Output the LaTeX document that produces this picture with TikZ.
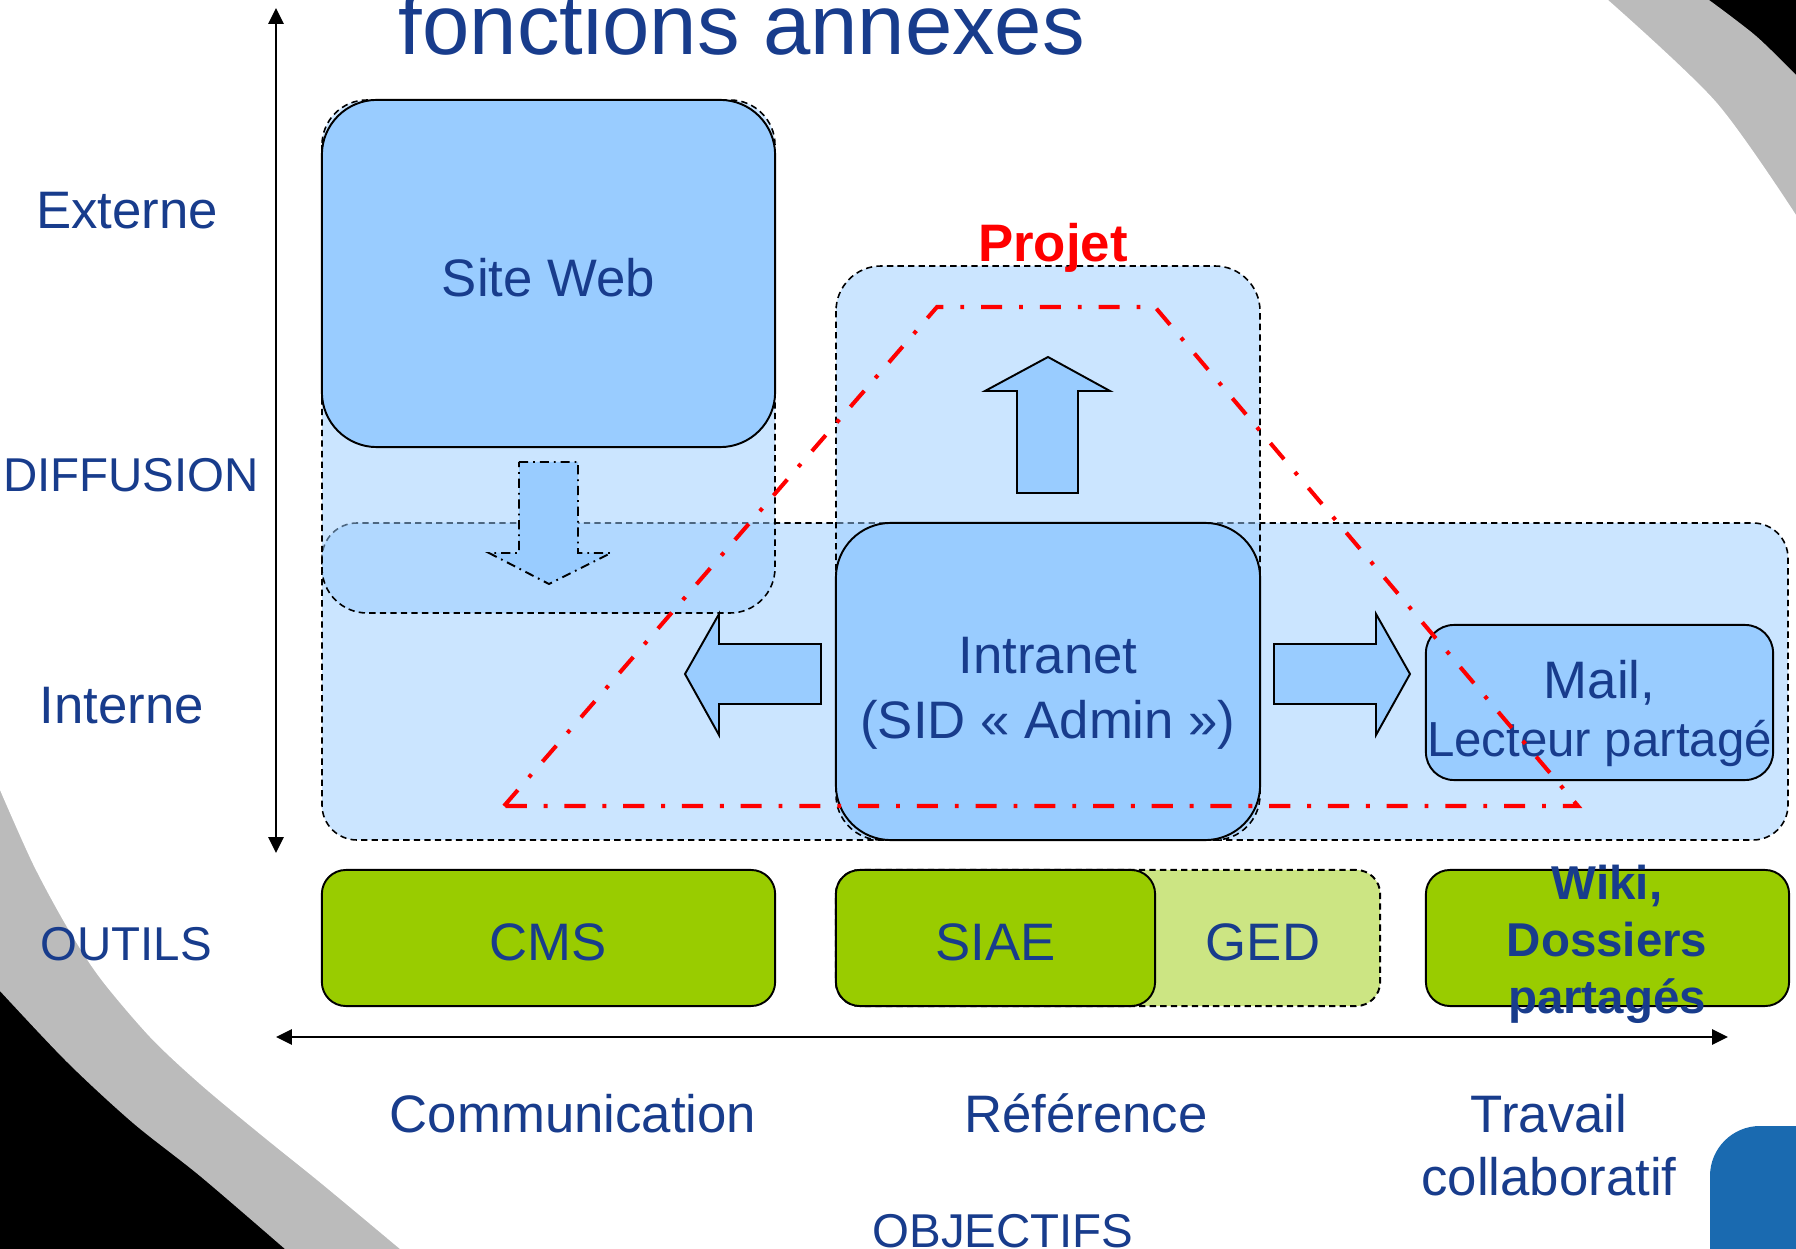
\documentclass[tikz,border=0pt]{standalone}
\usepackage{fontspec}
\setmainfont{Liberation Sans}
\usepackage{tikz}
\usetikzlibrary{arrows.meta}

\definecolor{textblue}{RGB}{24,60,140}
\definecolor{boxblue}{RGB}{153,204,255}
\definecolor{toolgreen}{RGB}{153,204,0}
\definecolor{gedgreen}{RGB}{204,229,131}
\definecolor{ringgrey}{RGB}{187,187,187}
\definecolor{cornerblue}{RGB}{26,106,176}

\begin{document}
\begin{tikzpicture}[x=0.01cm, y=-0.01cm,
    lbl/.style={text=textblue, font=\fontsize{15}{18}\selectfont, inner sep=0pt},
    caps/.style={text=textblue, font=\fontsize{13.5}{16}\selectfont, inner sep=0pt},
    zone/.style={draw, line width=0.45pt, dash pattern=on 1.8pt off 1.2pt, fill=boxblue, fill opacity=0.5},
    bluebox/.style={draw, line width=0.55pt, fill=boxblue, inner sep=0pt, align=center, text depth=0pt, text=textblue, font=\fontsize{15}{18.4}\selectfont},
    toolbox/.style={draw, line width=0.55pt, fill=toolgreen, rounded corners=0.24cm, inner sep=0pt, minimum height=1.36cm, text height=0.44cm, text depth=0pt, text=textblue, font=\fontsize{15}{18}\selectfont},
    bigarrow/.style={draw, line width=0.55pt, fill=boxblue},
    projline/.style={draw=red, line width=1.15pt, dash pattern=on 6pt off 4.8pt on 1.1pt off 4.8pt},
    axis/.style={line width=0.6pt, >={Triangle[length=4.5pt,width=4.3pt]}, <->}]

    % slide background
    \useasboundingbox (0,0) rectangle (1796,1249);
    \fill[black] (0,0) rectangle (1796,1249);
    \fill[ringgrey] (0,0) -- plot[smooth] coordinates {(1709,0) (1756,36) (1796,75)} -- (1796,1249)
        -- plot[smooth] coordinates {(285,1249) (200,1176) (133,1123) (67,1062) (0,991)} -- cycle;
    \fill[white] (0,0) -- plot[smooth] coordinates {(1608,0) (1716,102) (1796,215)} -- (1796,1249)
        -- plot[smooth] coordinates {(400,1249) (322,1184) (260,1134) (200,1084) (150,1037) (100,978) (67,927) (33,864) (0,790)} -- cycle;
    \fill[cornerblue, rounded corners=0.5cm] (1710,1126) rectangle (1850,1300);

    % zones
    \draw[zone, rounded corners=0.35cm] (322,523) rectangle (1788,840);
    \draw[zone, rounded corners=0.45cm] (836,266) rectangle (1260,840);
    \draw[zone, rounded corners=0.45cm] (322,100) rectangle (775,613);

    \node[bluebox, rounded corners=0.55cm, minimum width=4.53cm, minimum height=3.47cm, text height=0.45cm] (site) at (548.5,273.5) {Site Web};
    \node[bluebox, rounded corners=0.55cm, minimum width=4.24cm, minimum height=3.17cm, text height=1.13cm] (intranet) at (1048,681.5) {Intranet\\(SID « Admin »)};
    \node[bluebox, rounded corners=0.28cm, minimum width=3.47cm, minimum height=1.55cm, text height=1.07cm, font=\fontsize{15}{16.5}\selectfont] (mail) at (1599.5,702.5) {Mail,\\{\fontsize{14}{16.5}\selectfont Lecteur partagé}};

    % block arrows
    \draw[bigarrow] (1017,493) -- (1017,391) -- (985,391) -- (1048,357) -- (1110,391) -- (1078,391) -- (1078,493) -- cycle;
    \draw[bigarrow, dash pattern=on 2.6pt off 1.4pt on 0.5pt off 1.4pt] (519,462) -- (578,462) -- (578,553) -- (611,553) -- (549,584) -- (489,553) -- (519,553) -- cycle;
    \draw[bigarrow] (821,644) -- (719,644) -- (719,614) -- (685,674) -- (719,735) -- (719,704) -- (821,704) -- cycle;
    \draw[bigarrow] (1274,644) -- (1376,644) -- (1376,614) -- (1410,674) -- (1376,735) -- (1376,704) -- (1274,704) -- cycle;

    % outils
    \node[toolbox, dash pattern=on 1.8pt off 1.2pt, fill=gedgreen, minimum width=5.44cm] (ged) at (1108,938) {};
    \node[lbl, anchor=base] (gedlabel) at (1263,960) {GED};
    \node[toolbox, minimum width=4.53cm] (cms) at (548.5,938) {CMS};
    \node[toolbox, minimum width=3.19cm] (siae) at (995.5,938) {SIAE};
    \node[toolbox, minimum width=3.63cm] (wiki) at (1607.5,938) {};
    \node[lbl, anchor=base, align=center, font=\bfseries\fontsize{13.5}{16.1}\selectfont] (wikilabel) at (1607,1013) {Wiki,\\Dossiers\\partagés};

    \draw[projline] (504,806) -- (937,307) -- (1155,307) -- (1578,806) -- cycle;
    \node[lbl, anchor=base, text=red, font=\bfseries\fontsize{15}{18}\selectfont] (projet) at (1053,262) {Projet};

    % axes
    \coordinate (vtop) at (276,8);
    \coordinate (vbot) at (276,853);
    \coordinate (hleft) at (276,1037);
    \coordinate (hright) at (1728,1037);
    \draw[axis] (vbot) -- (vtop);
    \draw[axis] (hleft) -- (hright);

    \node[lbl, anchor=base, font=\fontsize{24.2}{29}\selectfont] (titre) at (742,55) {fonctions annexes};
    \node[lbl, anchor=base] (externe) at (127,229) {Externe};
    \node[caps, anchor=base] (diffusion) at (131,492) {DIFFUSION};
    \node[lbl, anchor=base] (interne) at (122,724) {Interne};
    \node[caps, anchor=base] (outils) at (126,960) {OUTILS};
    \node[lbl, anchor=base] (communication) at (573,1132) {Communication};
    \node[lbl, anchor=base] (reference) at (1086,1132) {Référence};
    \node[lbl, anchor=base, align=center, font=\fontsize{15}{17.9}\selectfont] (travail) at (1549,1195) {Travail\\collaboratif};
    \node[caps, anchor=base] (objectifs) at (1003,1247) {OBJECTIFS};
\end{tikzpicture}
\end{document}
